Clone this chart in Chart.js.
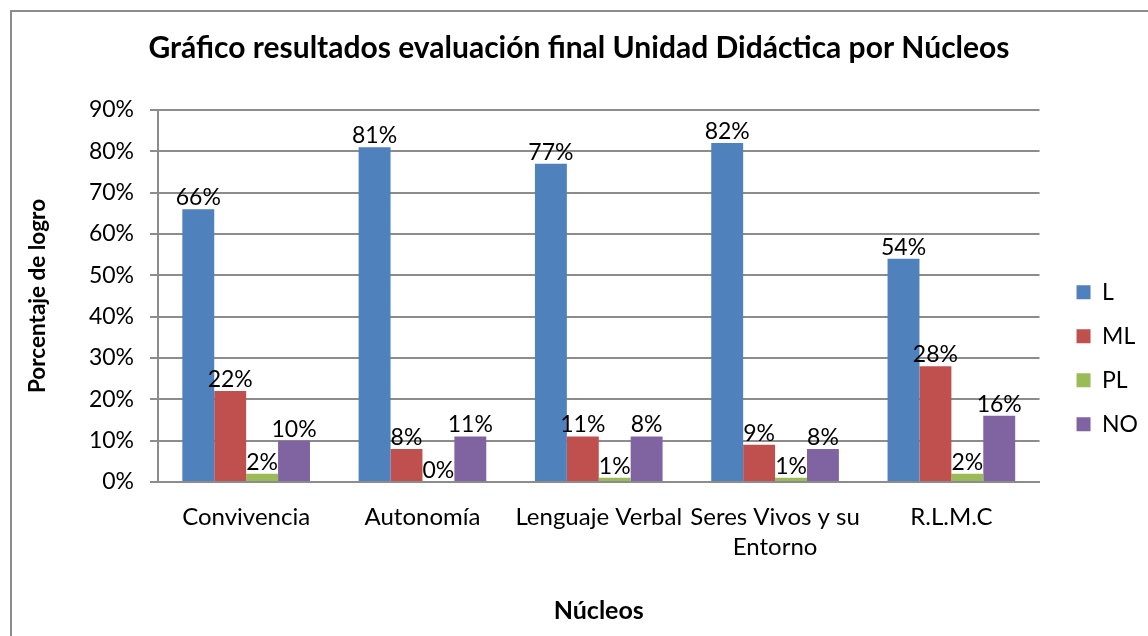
<!DOCTYPE html>
<html>
<head>
<meta charset="utf-8">
<script src="https://cdn.jsdelivr.net/npm/chart.js@4"></script>
<style>
  body { margin: 0; background: #fff; }
  #wrap { position: relative; width: 1148px; height: 636px; overflow: hidden; }
  #frame { position: absolute; left: 10px; top: 10px; width: 1200px; height: 700px; border: 2px solid #8c8c8c; box-sizing: border-box; }
  canvas { position: absolute; left: 0; top: 0; }
</style>
</head>
<body>
<div id="wrap">
  <div id="frame"></div>
  <canvas id="myChart" width="1148" height="636"></canvas>
</div>
<script>
// categories on the x-axis
var nucleos = ["Convivencia", "Autonomía", "Lenguaje Verbal", ["Seres Vivos y su", "Entorno"], "R.L.M.C"];
// bar heights, in percent
var L = [66, 81, 77, 82, 54];
var ML = [22, 8, 11, 9, 28];
var PL = [2, 0, 1, 1, 2];
var NO = [10, 11, 11, 8, 16];
// labels printed over the bars
var labelsL = ["66%", "81%", "77%", "82%", "54%"];
var labelsML = ["22%", "8%", "11%", "9%", "28%"];
var labelsPL = ["2%", "0%", "1%", "1%", "2%"];
var labelsNO = ["10%", "11%", "8%", "8%", "16%"];
// y-axis ticks
var yTicks = [0, 10, 20, 30, 40, 50, 60, 70, 80, 90];

var FONT = "Lato";

// writes the value label above each bar
var barLabels = {
  id: 'barLabels',
  afterDatasetsDraw: function(chart) {
    var ctx = chart.ctx;
    ctx.save();
    ctx.font = "23px " + FONT;
    ctx.fillStyle = "#000";
    ctx.textAlign = "center";
    ctx.textBaseline = "bottom";
    chart.data.datasets.forEach(function(ds, i) {
      chart.getDatasetMeta(i).data.forEach(function(bar, j) {
        ctx.fillText(ds.printed[j], bar.x, bar.y);
      });
    });
    ctx.restore();
  }
};

var ctx = document.getElementById("myChart");
new Chart(ctx, {
  type: 'bar',
  data: {
    labels: nucleos,
    datasets: [
      { label: "L", data: L, printed: labelsL, backgroundColor: "#4F81BD" },
      { label: "ML", data: ML, printed: labelsML, backgroundColor: "#C0504D" },
      { label: "PL", data: PL, printed: labelsPL, backgroundColor: "#9BBB59" },
      { label: "NO", data: NO, printed: labelsNO, backgroundColor: "#8064A2" }
    ]
  },
  options: {
    responsive: false,
    animation: false,
    layout: { padding: { left: 10, right: 0, top: 30, bottom: 0 } },
    datasets: { bar: { categoryPercentage: 0.724, barPercentage: 1.0 } },
    plugins: {
      title: {
        display: true,
        text: "Gráfico resultados evaluación final Unidad Didáctica por Núcleos",
        color: "#000",
        font: { family: FONT, size: 30, weight: "bold" },
        padding: { top: 0, bottom: 44 }
      },
      legend: {
        position: 'right',
        title: { display: true, text: "", padding: 18 },
        labels: {
          color: "#000",
          font: { family: FONT, size: 23, lineHeight: 1.42 },
          boxWidth: 14,
          boxHeight: 14,
          padding: 21
        }
      },
      tooltip: { enabled: false }
    },
    scales: {
      x: {
        grid: { display: false },
        border: { color: "#8c8c8c", width: 2 },
        ticks: { color: "#000", font: { family: FONT, size: 24, lineHeight: 1.25 }, maxRotation: 0, autoSkip: false, padding: 12 },
        title: {
          display: true,
          text: "Núcleos",
          color: "#000",
          font: { family: FONT, size: 25, weight: "bold" },
          padding: { top: 30, bottom: 10 }
        },
        afterFit: function(s) { s.height = 154; }
      },
      y: {
        min: 0,
        max: 90,
        afterBuildTicks: function(s) { s.ticks = yTicks.map(function(v) { return { value: v }; }); },
        grid: { color: "#8c8c8c", lineWidth: 2, tickLength: 8, drawTicks: true },
        border: { color: "#8c8c8c", width: 2 },
        ticks: {
          color: "#000",
          font: { family: FONT, size: 23 },
          padding: 16,
          callback: function(v) { return v + "%"; }
        },
        title: {
          display: true,
          text: "Porcentaje de logro",
          color: "#000",
          font: { family: FONT, size: 22.5, weight: "bold" },
          padding: { top: 14, bottom: 0 }
        },
        afterFit: function(s) { s.width = 148; }
      },
      // empty axis that keeps a gap between the plot and the legend
      gap: {
        position: 'right',
        display: true,
        grid: { display: false },
        border: { display: false },
        ticks: { display: false },
        afterFit: function(s) { s.width = 16; }
      }
    }
  },
  plugins: [barLabels]
});
</script>
</body>
</html>
